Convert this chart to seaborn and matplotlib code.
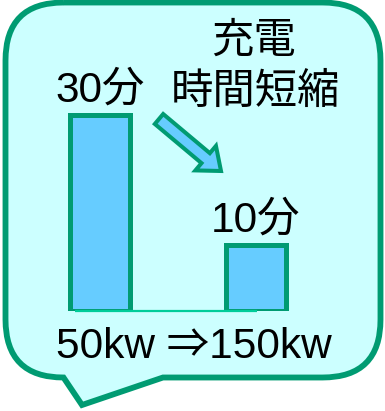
import matplotlib
matplotlib.use("Agg")
import matplotlib.pyplot as plt
import seaborn as sns
import pandas as pd
from matplotlib.path import Path
from matplotlib.patches import PathPatch, FancyArrow

# Charging power before / after and the resulting charge time (minutes)
categories = ["50kw", "150kw"]
minutes = [30, 10]
minute_labels = ["30分", "10分"]
headline = ["充電", "時間短縮"]

GREEN = "#009B72"
BUBBLE_FILL = "#CCFFFF"
BAR_FILL = "#66CCFF"
BASE_GREEN = "#00CC99"
FS = 30.5

sns.set_theme(style="white")
plt.rcParams["font.family"] = ["Liberation Sans", "Noto Sans CJK JP"]

W, H = 385, 411
fig = plt.figure(figsize=(W / 100, H / 100), dpi=100)
fig.patch.set_facecolor("white")

# Background layer in pixel units: speech bubble, arrow and captions
bg = fig.add_axes([0, 0, 1, 1])
bg.set_xlim(0, W)
bg.set_ylim(H, 0)
bg.axis("off")

L, R, T, B, r = 5.5, 380.5, 2.5, 377.5, 58
verts = [
    (L + r, T), (R - r, T), (R, T), (R, T + r),
    (R, B - r), (R, B), (R - r, B),
    (163, B), (82, 405), (L + r, B),
    (L, B), (L, B - r),
    (L, T + r), (L, T), (L + r, T),
]
codes = [
    Path.MOVETO, Path.LINETO, Path.CURVE3, Path.CURVE3,
    Path.LINETO, Path.CURVE3, Path.CURVE3,
    Path.LINETO, Path.LINETO, Path.LINETO,
    Path.CURVE3, Path.CURVE3,
    Path.LINETO, Path.CURVE3, Path.CURVE3,
]
bubble = PathPatch(Path(verts, codes), facecolor=BUBBLE_FILL, edgecolor=GREEN,
                   linewidth=4.2, joinstyle="miter")
bg.add_patch(bubble)

arrow = FancyArrow(159, 119, 62, 52, width=13, head_width=32, head_length=20,
                   length_includes_head=True, facecolor=BAR_FILL,
                   edgecolor=GREEN, linewidth=2.9, joinstyle="miter")
bg.add_patch(arrow)

bg.text(254, 53, headline[0], ha="center", va="baseline", fontsize=FS, color="black")
bg.text(256, 104, headline[1], ha="center", va="baseline", fontsize=FS, color="black")
bg.text(194, 358, f"{categories[0]} ⇒{categories[1]}", ha="center", va="baseline",
        fontsize=FS, color="black")

# Bar layer
ax = fig.add_axes([22 / W, (H - 310.5) / H, 312 / W, 209 / H])
ax.patch.set_alpha(0)
df = pd.DataFrame({"rate": categories, "minutes": minutes})
sns.barplot(data=df, x="rate", y="minutes", ax=ax, color=BAR_FILL, saturation=1,
            width=0.39, edgecolor=GREEN, linewidth=3.6, errorbar=None)
ax.set_xlim(-0.5, 1.5)
ax.set_ylim(0, 32)
ax.plot([-0.16, 1.006], [0, 0], color=BASE_GREEN, linewidth=1.6, zorder=5,
        clip_on=False, solid_capstyle="butt")

for i, (v, lbl) in enumerate(zip(minutes, minute_labels)):
    ax.annotate(lbl, (i, v), xytext=(0, 9.5), textcoords="offset points",
                ha="center", va="baseline", fontsize=FS, color="black",
                annotation_clip=False)

ax.set_xlabel("")
ax.set_ylabel("")
ax.set_xticks([])
ax.set_yticks([])
for s in ax.spines.values():
    s.set_visible(False)

fig.savefig("out.png", dpi=100)
